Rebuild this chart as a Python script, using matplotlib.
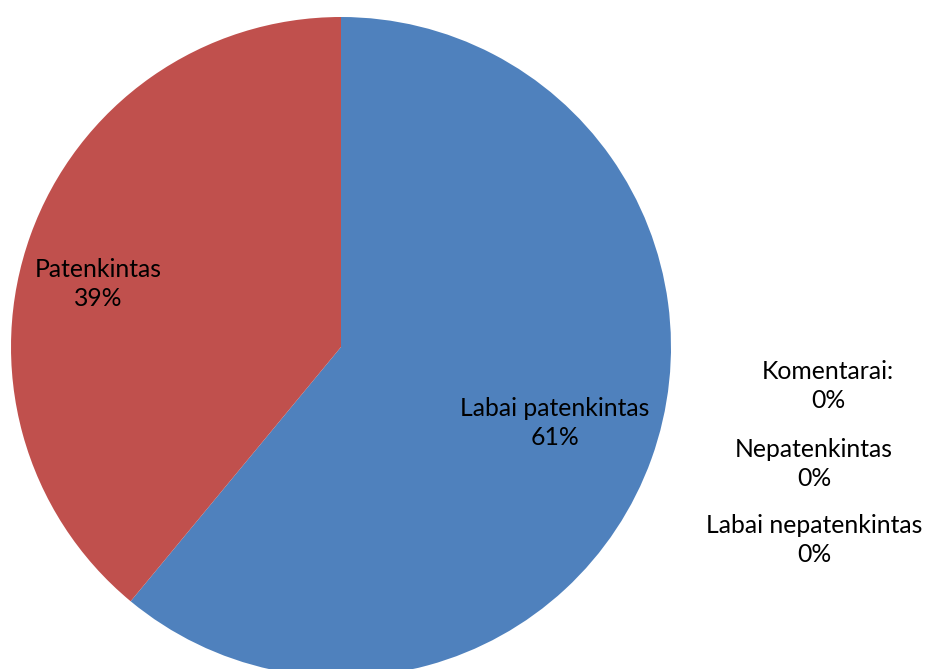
import matplotlib

matplotlib.use("Agg")

import matplotlib.pyplot as plt

categories = ["Labai patenkintas", "Patenkintas", "Komentarai:", "Nepatenkintas", "Labai nepatenkintas"]
shares = [61, 39, 0, 0, 0]
colors = ["#4F81BD", "#C0504D", "#9BBB59", "#8064A2", "#4BACC6"]

# label anchors in pixel space (x from left, y from top)
label_pos = [(555, 423), (98, 284), (828, 386), (814, 464), (814, 540)]

W, H = 926, 669
CX, CY, R = 341, 347, 330

plt.rcParams["font.family"] = ["Lato", "DejaVu Sans"]

fig = plt.figure(figsize=(W / 100, H / 100), dpi=100)
fig.patch.set_facecolor("white")
ax = fig.add_axes([0, 0, 1, 1])

ax.pie(
    shares,
    colors=colors,
    startangle=90,
    counterclock=False,
    center=(CX, H - CY),
    radius=R,
    frame=True,
    wedgeprops={"linewidth": 0},
)
ax.set_xlim(0, W)
ax.set_ylim(0, H)
ax.set_aspect("equal")
ax.axis("off")

total = sum(shares)
for name, value, (x, y) in zip(categories, shares, label_pos):
    ax.text(x, H - y, f"{name}\n{value / total * 100:.0f}%", ha="center", va="center",
            fontsize=17.8, linespacing=1.32, color="black")

fig.savefig("out.png", dpi=100)
plt.close(fig)
